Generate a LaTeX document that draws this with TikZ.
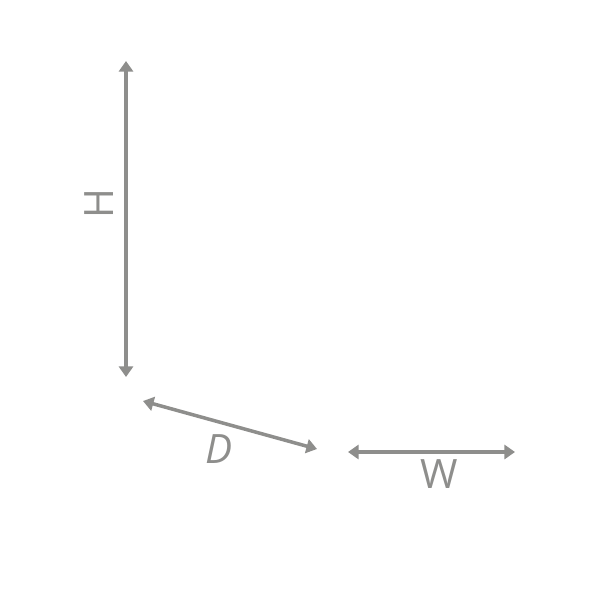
\documentclass[tikz,border=0pt]{standalone}
\usepackage{fontspec}
\setsansfont{Open Sans}
\usetikzlibrary{arrows.meta}
\definecolor{dimgray}{HTML}{8E8E8C}
\tikzset{
	dimline/.style={draw=dimgray, line width=1pt, {Triangle[length=3pt,width=4pt]}-{Triangle[length=3pt,width=4pt]}},
	dimlabel/.style={text=dimgray, font=\sffamily\fontsize{11.5}{11.5}\selectfont, inner sep=0pt}
}
\begin{document}
\begin{tikzpicture}[x=0.01cm, y=-0.01cm]
				\useasboundingbox (0,0) rectangle (600,600);
				
				% height
				\coordinate (htop) at (126,61);
				\coordinate (hbot) at (126,377);
				\draw[dimline] (htop) -- (hbot);
				\node[dimlabel, rotate=90] (hlabel) at (99,204) {H};
				
				% depth
				\coordinate (dleft) at (143,401);
				\coordinate (dright) at (317,449);
				\draw[dimline] (dleft) -- (dright);
				\node[dimlabel, font=\sffamily\itshape\fontsize{11.5}{11.5}\selectfont] (dlabel) at (219,449) {D};
				
				% width
				\coordinate (wleft) at (348,452);
				\coordinate (wright) at (515,452);
				\draw[dimline] (wleft) -- (wright);
				\node[dimlabel] (wlabel) at (439,474) {W};
			\end{tikzpicture}
\end{document}
